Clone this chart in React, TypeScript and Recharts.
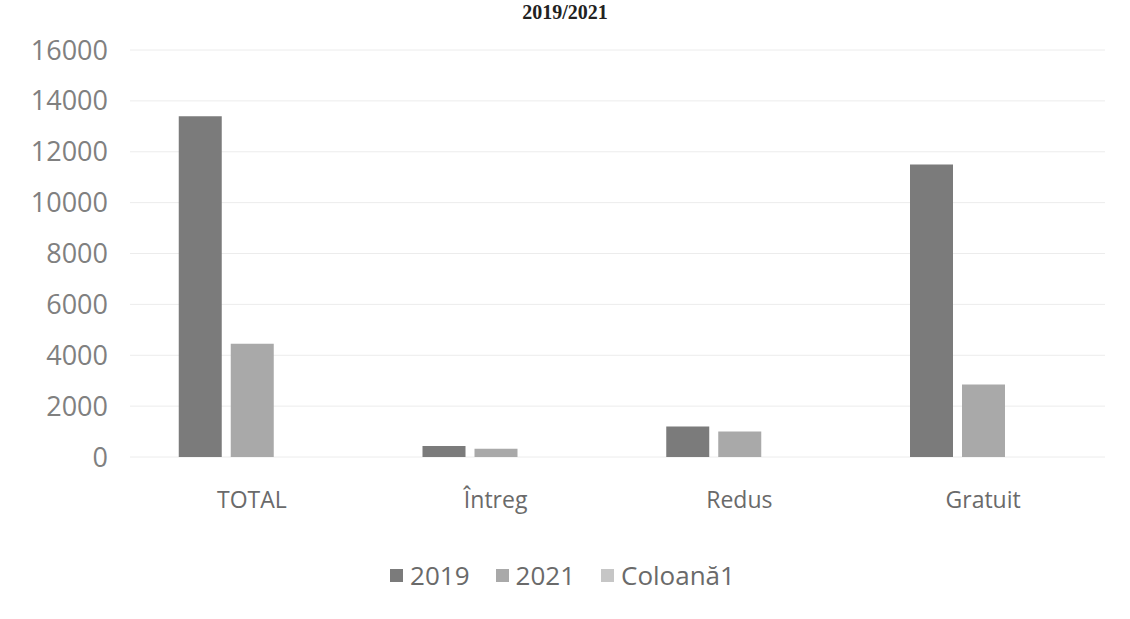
import { BarChart, Bar, XAxis, YAxis, CartesianGrid, Legend } from 'recharts';

const categories = ['TOTAL', 'Întreg', 'Redus', 'Gratuit'];
const values2019 = [13400, 430, 1200, 11500];
const values2021 = [4450, 320, 1000, 2850];
const valuesColoana1: (number | null)[] = [null, null, null, null];
const yTicks = [0, 2000, 4000, 6000, 8000, 10000, 12000, 14000, 16000];

const data = categories.map((name, i) => ({
  name,
  y2019: values2019[i],
  y2021: values2021[i],
  col1: valuesColoana1[i],
}));

const legendItems = [
  { label: '2019', color: '#7b7b7b' },
  { label: '2021', color: '#a9a9a9' },
  { label: 'Coloană1', color: '#c6c6c6' },
];

const font = '"Open Sans", sans-serif';

function ChartLegend() {
  return (
    <div style={{ display: 'flex', justifyContent: 'center', alignItems: 'center', gap: 26, fontFamily: font, fontSize: 26, color: '#6a6a6a', paddingLeft: 20 }}>
      {legendItems.map((it) => (
        <div key={it.label} style={{ display: 'flex', alignItems: 'center', gap: 7 }}>
          <div style={{ width: 13, height: 13, background: it.color }} />
          <span>{it.label}</span>
        </div>
      ))}
    </div>
  );
}

export default function App() {
  return (
    <div style={{ position: 'absolute', left: 0, top: 0, width: 1130, height: 619, background: '#fff', overflow: 'hidden' }}>
      <div style={{ position: 'absolute', top: 1, left: 0, width: 1130, textAlign: 'center', fontFamily: '"Liberation Serif", serif', fontWeight: 'bold', fontSize: 20, lineHeight: '22px', color: '#222' }}>
        2019/2021
      </div>
      <BarChart
        width={1130}
        height={619}
        data={data}
        margin={{ top: 50, right: 25, left: 0, bottom: 26 }}
        barCategoryGap="20%"
        barGap={9}
      >
        <CartesianGrid vertical={false} stroke="#ececec" />
        <XAxis
          dataKey="name"
          axisLine={false}
          tickLine={false}
          height={100}
          tickMargin={29}
          tick={{ fill: '#6a6a6a', fontSize: 23, fontFamily: font }}
        />
        <YAxis
          domain={[0, 16000]}
          ticks={yTicks}
          axisLine={false}
          tickLine={false}
          width={130}
          tickMargin={16}
          tick={{ fill: '#808080', fontSize: 27, fontFamily: font }}
        />
        <Legend verticalAlign="bottom" content={() => <ChartLegend />} />
        <Bar dataKey="y2019" name="2019" fill="#7b7b7b" isAnimationActive={false} />
        <Bar dataKey="y2021" name="2021" fill="#a9a9a9" isAnimationActive={false} />
        <Bar dataKey="col1" name="Coloană1" fill="#c6c6c6" isAnimationActive={false} />
      </BarChart>
    </div>
  );
}
